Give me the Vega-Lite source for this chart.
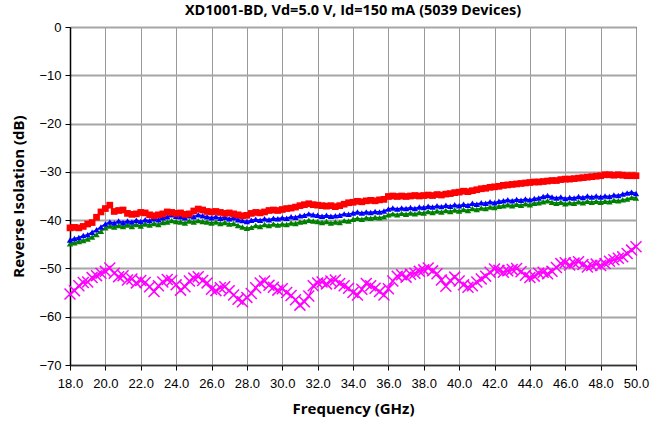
{
  "$schema": "https://vega.github.io/schema/vega-lite/v6.json",
  "width": 566,
  "height": 338,
  "autosize": {"type": "none"},
  "padding": {"left": 70, "top": 27, "right": 25, "bottom": 60},
  "background": "white",
  "title": {"text": "XD1001-BD, Vd=5.0 V, Id=150 mA (5039 Devices)", "font": "Open Sans", "fontSize": 14.5, "fontWeight": "bold", "color": "black", "anchor": "middle", "offset": 3},
  "config": {
    "view": {"stroke": "black", "strokeWidth": 1},
    "axis": {"labelFont": "Liberation Sans", "labelFontSize": 13, "labelColor": "black", "titleFont": "Open Sans", "titleFontSize": 15, "titleFontWeight": "bold", "titleColor": "black", "tickColor": "black", "tickSize": 5, "domainColor": "black", "labelFlush": false, "labelOverlap": false}
  },
  "datasets": {
    "red": [
      {"f":18.00,"v":-41.6},{"f":18.25,"v":-41.5},{"f":18.50,"v":-41.6},{"f":18.75,"v":-41.3},{"f":19.00,"v":-40.8},{"f":19.25,"v":-40.5},{"f":19.50,"v":-39.4},{"f":19.75,"v":-38.3},
      {"f":20.00,"v":-37.6},{"f":20.25,"v":-36.9},{"f":20.50,"v":-38.2},{"f":20.75,"v":-38.0},{"f":21.00,"v":-37.9},{"f":21.25,"v":-38.6},{"f":21.50,"v":-38.8},{"f":21.75,"v":-38.7},
      {"f":22.00,"v":-38.4},{"f":22.25,"v":-38.5},{"f":22.50,"v":-38.9},{"f":22.75,"v":-39.1},{"f":23.00,"v":-38.9},{"f":23.25,"v":-38.7},{"f":23.50,"v":-38.3},{"f":23.75,"v":-38.4},
      {"f":24.00,"v":-38.6},{"f":24.25,"v":-38.5},{"f":24.50,"v":-38.8},{"f":24.75,"v":-38.7},{"f":25.00,"v":-38.1},{"f":25.25,"v":-37.7},{"f":25.50,"v":-37.9},{"f":25.75,"v":-38.2},
      {"f":26.00,"v":-38.3},{"f":26.25,"v":-38.2},{"f":26.50,"v":-38.4},{"f":26.75,"v":-38.6},{"f":27.00,"v":-38.5},{"f":27.25,"v":-38.7},{"f":27.50,"v":-38.9},{"f":27.75,"v":-39.1},
      {"f":28.00,"v":-39.0},{"f":28.25,"v":-38.6},{"f":28.50,"v":-38.4},{"f":28.75,"v":-38.5},{"f":29.00,"v":-38.3},{"f":29.25,"v":-38.0},{"f":29.50,"v":-37.9},{"f":29.75,"v":-38.0},
      {"f":30.00,"v":-37.8},{"f":30.25,"v":-37.6},{"f":30.50,"v":-37.5},{"f":30.75,"v":-37.3},{"f":31.00,"v":-37.0},{"f":31.25,"v":-36.8},{"f":31.50,"v":-36.6},{"f":31.75,"v":-36.8},
      {"f":32.00,"v":-36.9},{"f":32.25,"v":-37.0},{"f":32.50,"v":-37.1},{"f":32.75,"v":-37.0},{"f":33.00,"v":-37.2},{"f":33.25,"v":-37.0},{"f":33.50,"v":-36.7},{"f":33.75,"v":-36.4},
      {"f":34.00,"v":-36.3},{"f":34.25,"v":-36.1},{"f":34.50,"v":-36.2},{"f":34.75,"v":-36.0},{"f":35.00,"v":-35.9},{"f":35.25,"v":-36.0},{"f":35.50,"v":-35.8},{"f":35.75,"v":-35.7},
      {"f":36.00,"v":-35.1},{"f":36.25,"v":-35.0},{"f":36.50,"v":-35.1},{"f":36.75,"v":-35.0},{"f":37.00,"v":-35.1},{"f":37.25,"v":-35.0},{"f":37.50,"v":-34.9},{"f":37.75,"v":-35.0},
      {"f":38.00,"v":-34.9},{"f":38.25,"v":-34.8},{"f":38.50,"v":-34.9},{"f":38.75,"v":-34.7},{"f":39.00,"v":-34.8},{"f":39.25,"v":-34.6},{"f":39.50,"v":-34.5},{"f":39.75,"v":-34.3},
      {"f":40.00,"v":-34.2},{"f":40.25,"v":-34.0},{"f":40.50,"v":-34.1},{"f":40.75,"v":-33.9},{"f":41.00,"v":-33.7},{"f":41.25,"v":-33.5},{"f":41.50,"v":-33.4},{"f":41.75,"v":-33.2},
      {"f":42.00,"v":-33.1},{"f":42.25,"v":-33.0},{"f":42.50,"v":-32.8},{"f":42.75,"v":-32.7},{"f":43.00,"v":-32.6},{"f":43.25,"v":-32.5},{"f":43.50,"v":-32.4},{"f":43.75,"v":-32.3},
      {"f":44.00,"v":-32.2},{"f":44.25,"v":-32.1},{"f":44.50,"v":-32.1},{"f":44.75,"v":-32.0},{"f":45.00,"v":-31.9},{"f":45.25,"v":-31.8},{"f":45.50,"v":-31.8},{"f":45.75,"v":-31.6},
      {"f":46.00,"v":-31.5},{"f":46.25,"v":-31.5},{"f":46.50,"v":-31.4},{"f":46.75,"v":-31.3},{"f":47.00,"v":-31.2},{"f":47.25,"v":-31.1},{"f":47.50,"v":-31.0},{"f":47.75,"v":-30.9},
      {"f":48.00,"v":-30.8},{"f":48.25,"v":-30.6},{"f":48.50,"v":-30.6},{"f":48.75,"v":-30.7},{"f":49.00,"v":-30.6},{"f":49.25,"v":-30.7},{"f":49.50,"v":-30.8},{"f":49.75,"v":-30.8},
      {"f":50.00,"v":-30.8}
    ],
    "blue": [
      {"f":18.00,"v":-44.1},{"f":18.25,"v":-43.8},{"f":18.50,"v":-43.6},{"f":18.75,"v":-43.2},{"f":19.00,"v":-43.0},{"f":19.25,"v":-42.5},{"f":19.50,"v":-42.0},{"f":19.75,"v":-41.4},
      {"f":20.00,"v":-40.8},{"f":20.25,"v":-40.4},{"f":20.50,"v":-40.6},{"f":20.75,"v":-40.2},{"f":21.00,"v":-40.5},{"f":21.25,"v":-40.2},{"f":21.50,"v":-40.4},{"f":21.75,"v":-40.0},
      {"f":22.00,"v":-40.3},{"f":22.25,"v":-39.9},{"f":22.50,"v":-40.1},{"f":22.75,"v":-39.7},{"f":23.00,"v":-39.9},{"f":23.25,"v":-39.5},{"f":23.50,"v":-39.3},{"f":23.75,"v":-38.9},
      {"f":24.00,"v":-39.2},{"f":24.25,"v":-39.3},{"f":24.50,"v":-39.5},{"f":24.75,"v":-39.1},{"f":25.00,"v":-39.3},{"f":25.25,"v":-38.9},{"f":25.50,"v":-39.1},{"f":25.75,"v":-39.3},
      {"f":26.00,"v":-39.5},{"f":26.25,"v":-39.3},{"f":26.50,"v":-39.6},{"f":26.75,"v":-39.4},{"f":27.00,"v":-39.7},{"f":27.25,"v":-39.5},{"f":27.50,"v":-39.9},{"f":27.75,"v":-40.1},
      {"f":28.00,"v":-40.3},{"f":28.25,"v":-40.0},{"f":28.50,"v":-39.8},{"f":28.75,"v":-40.0},{"f":29.00,"v":-39.7},{"f":29.25,"v":-39.9},{"f":29.50,"v":-39.6},{"f":29.75,"v":-39.7},
      {"f":30.00,"v":-39.5},{"f":30.25,"v":-39.6},{"f":30.50,"v":-39.3},{"f":30.75,"v":-39.4},{"f":31.00,"v":-39.1},{"f":31.25,"v":-39.0},{"f":31.50,"v":-38.7},{"f":31.75,"v":-38.9},
      {"f":32.00,"v":-39.0},{"f":32.25,"v":-39.2},{"f":32.50,"v":-39.0},{"f":32.75,"v":-39.2},{"f":33.00,"v":-39.1},{"f":33.25,"v":-39.0},{"f":33.50,"v":-38.7},{"f":33.75,"v":-38.8},
      {"f":34.00,"v":-38.5},{"f":34.25,"v":-38.3},{"f":34.50,"v":-38.5},{"f":34.75,"v":-38.3},{"f":35.00,"v":-38.4},{"f":35.25,"v":-38.2},{"f":35.50,"v":-38.3},{"f":35.75,"v":-38.1},
      {"f":36.00,"v":-37.7},{"f":36.25,"v":-37.5},{"f":36.50,"v":-37.7},{"f":36.75,"v":-37.5},{"f":37.00,"v":-37.6},{"f":37.25,"v":-37.4},{"f":37.50,"v":-37.6},{"f":37.75,"v":-37.3},
      {"f":38.00,"v":-37.4},{"f":38.25,"v":-37.1},{"f":38.50,"v":-37.3},{"f":38.75,"v":-37.0},{"f":39.00,"v":-37.2},{"f":39.25,"v":-36.9},{"f":39.50,"v":-37.1},{"f":39.75,"v":-36.8},
      {"f":40.00,"v":-37.0},{"f":40.25,"v":-36.7},{"f":40.50,"v":-36.9},{"f":40.75,"v":-36.5},{"f":41.00,"v":-36.7},{"f":41.25,"v":-36.4},{"f":41.50,"v":-36.5},{"f":41.75,"v":-36.2},
      {"f":42.00,"v":-36.4},{"f":42.25,"v":-36.1},{"f":42.50,"v":-36.0},{"f":42.75,"v":-35.8},{"f":43.00,"v":-36.0},{"f":43.25,"v":-35.7},{"f":43.50,"v":-35.9},{"f":43.75,"v":-35.6},
      {"f":44.00,"v":-35.8},{"f":44.25,"v":-35.5},{"f":44.50,"v":-35.4},{"f":44.75,"v":-35.1},{"f":45.00,"v":-34.9},{"f":45.25,"v":-35.2},{"f":45.50,"v":-35.4},{"f":45.75,"v":-35.2},
      {"f":46.00,"v":-35.5},{"f":46.25,"v":-35.3},{"f":46.50,"v":-35.4},{"f":46.75,"v":-35.1},{"f":47.00,"v":-35.3},{"f":47.25,"v":-35.0},{"f":47.50,"v":-35.2},{"f":47.75,"v":-35.0},
      {"f":48.00,"v":-35.2},{"f":48.25,"v":-35.0},{"f":48.50,"v":-35.1},{"f":48.75,"v":-34.8},{"f":49.00,"v":-34.9},{"f":49.25,"v":-34.6},{"f":49.50,"v":-34.4},{"f":49.75,"v":-34.2},
      {"f":50.00,"v":-34.5}
    ],
    "green": [
      {"f":18.00,"v":-44.9},{"f":18.25,"v":-44.7},{"f":18.50,"v":-44.4},{"f":18.75,"v":-44.2},{"f":19.00,"v":-43.9},{"f":19.25,"v":-43.5},{"f":19.50,"v":-43.0},{"f":19.75,"v":-42.3},
      {"f":20.00,"v":-41.6},{"f":20.25,"v":-41.2},{"f":20.50,"v":-41.4},{"f":20.75,"v":-41.1},{"f":21.00,"v":-41.3},{"f":21.25,"v":-41.0},{"f":21.50,"v":-41.3},{"f":21.75,"v":-40.9},
      {"f":22.00,"v":-41.2},{"f":22.25,"v":-40.8},{"f":22.50,"v":-41.0},{"f":22.75,"v":-40.7},{"f":23.00,"v":-40.9},{"f":23.25,"v":-40.5},{"f":23.50,"v":-40.4},{"f":23.75,"v":-40.1},
      {"f":24.00,"v":-40.3},{"f":24.25,"v":-40.4},{"f":24.50,"v":-40.6},{"f":24.75,"v":-40.2},{"f":25.00,"v":-40.4},{"f":25.25,"v":-40.1},{"f":25.50,"v":-40.3},{"f":25.75,"v":-40.4},
      {"f":26.00,"v":-40.6},{"f":26.25,"v":-40.4},{"f":26.50,"v":-40.7},{"f":26.75,"v":-40.5},{"f":27.00,"v":-40.8},{"f":27.25,"v":-40.7},{"f":27.50,"v":-41.1},{"f":27.75,"v":-41.4},
      {"f":28.00,"v":-41.7},{"f":28.25,"v":-41.5},{"f":28.50,"v":-41.1},{"f":28.75,"v":-41.3},{"f":29.00,"v":-40.9},{"f":29.25,"v":-41.1},{"f":29.50,"v":-40.8},{"f":29.75,"v":-41.0},
      {"f":30.00,"v":-40.8},{"f":30.25,"v":-40.9},{"f":30.50,"v":-40.6},{"f":30.75,"v":-40.7},{"f":31.00,"v":-40.4},{"f":31.25,"v":-40.3},{"f":31.50,"v":-40.0},{"f":31.75,"v":-40.2},
      {"f":32.00,"v":-40.3},{"f":32.25,"v":-40.5},{"f":32.50,"v":-40.3},{"f":32.75,"v":-40.6},{"f":33.00,"v":-40.4},{"f":33.25,"v":-40.5},{"f":33.50,"v":-40.1},{"f":33.75,"v":-40.2},
      {"f":34.00,"v":-39.8},{"f":34.25,"v":-39.6},{"f":34.50,"v":-39.8},{"f":34.75,"v":-39.5},{"f":35.00,"v":-39.6},{"f":35.25,"v":-39.4},{"f":35.50,"v":-39.5},{"f":35.75,"v":-39.3},
      {"f":36.00,"v":-38.9},{"f":36.25,"v":-38.7},{"f":36.50,"v":-38.9},{"f":36.75,"v":-38.6},{"f":37.00,"v":-38.8},{"f":37.25,"v":-38.5},{"f":37.50,"v":-38.7},{"f":37.75,"v":-38.4},
      {"f":38.00,"v":-38.5},{"f":38.25,"v":-38.2},{"f":38.50,"v":-38.4},{"f":38.75,"v":-38.1},{"f":39.00,"v":-38.3},{"f":39.25,"v":-38.0},{"f":39.50,"v":-38.2},{"f":39.75,"v":-37.9},
      {"f":40.00,"v":-38.1},{"f":40.25,"v":-37.8},{"f":40.50,"v":-38.0},{"f":40.75,"v":-37.6},{"f":41.00,"v":-37.8},{"f":41.25,"v":-37.5},{"f":41.50,"v":-37.6},{"f":41.75,"v":-37.3},
      {"f":42.00,"v":-37.4},{"f":42.25,"v":-37.1},{"f":42.50,"v":-37.0},{"f":42.75,"v":-36.8},{"f":43.00,"v":-37.0},{"f":43.25,"v":-36.7},{"f":43.50,"v":-36.9},{"f":43.75,"v":-36.6},
      {"f":44.00,"v":-36.8},{"f":44.25,"v":-36.5},{"f":44.50,"v":-36.4},{"f":44.75,"v":-36.2},{"f":45.00,"v":-36.0},{"f":45.25,"v":-36.3},{"f":45.50,"v":-36.5},{"f":45.75,"v":-36.3},
      {"f":46.00,"v":-36.6},{"f":46.25,"v":-36.4},{"f":46.50,"v":-36.5},{"f":46.75,"v":-36.2},{"f":47.00,"v":-36.4},{"f":47.25,"v":-36.1},{"f":47.50,"v":-36.3},{"f":47.75,"v":-36.1},
      {"f":48.00,"v":-36.3},{"f":48.25,"v":-36.1},{"f":48.50,"v":-36.2},{"f":48.75,"v":-35.9},{"f":49.00,"v":-36.0},{"f":49.25,"v":-35.8},{"f":49.50,"v":-35.6},{"f":49.75,"v":-35.3},
      {"f":50.00,"v":-35.4}
    ],
    "magenta": [
      {"f":18.00,"v":-55.3},{"f":18.25,"v":-54.6},{"f":18.50,"v":-53.6},{"f":18.75,"v":-52.9},{"f":19.00,"v":-52.8},{"f":19.25,"v":-51.9},{"f":19.50,"v":-51.5},{"f":19.75,"v":-51.0},
      {"f":20.00,"v":-50.6},{"f":20.25,"v":-49.9},{"f":20.50,"v":-51.0},{"f":20.75,"v":-51.7},{"f":21.00,"v":-51.5},{"f":21.25,"v":-52.4},{"f":21.50,"v":-52.2},{"f":21.75,"v":-53.0},
      {"f":22.00,"v":-52.5},{"f":22.25,"v":-52.9},{"f":22.50,"v":-53.8},{"f":22.75,"v":-54.8},{"f":23.00,"v":-53.6},{"f":23.25,"v":-52.8},{"f":23.50,"v":-52.3},{"f":23.75,"v":-52.5},
      {"f":24.00,"v":-53.4},{"f":24.25,"v":-54.5},{"f":24.50,"v":-53.8},{"f":24.75,"v":-52.6},{"f":25.00,"v":-52.0},{"f":25.25,"v":-51.7},{"f":25.50,"v":-52.5},{"f":25.75,"v":-53.0},
      {"f":26.00,"v":-54.3},{"f":26.25,"v":-54.6},{"f":26.50,"v":-54.0},{"f":26.75,"v":-53.8},{"f":27.00,"v":-54.6},{"f":27.25,"v":-55.5},{"f":27.50,"v":-56.4},{"f":27.75,"v":-56.9},
      {"f":28.00,"v":-56.0},{"f":28.25,"v":-55.2},{"f":28.50,"v":-54.0},{"f":28.75,"v":-53.0},{"f":29.00,"v":-52.6},{"f":29.25,"v":-53.5},{"f":29.50,"v":-53.9},{"f":29.75,"v":-54.5},
      {"f":30.00,"v":-54.2},{"f":30.25,"v":-55.0},{"f":30.50,"v":-55.6},{"f":30.75,"v":-56.5},{"f":31.00,"v":-57.6},{"f":31.25,"v":-56.9},{"f":31.50,"v":-55.7},{"f":31.75,"v":-53.6},
      {"f":32.00,"v":-53.0},{"f":32.25,"v":-52.8},{"f":32.50,"v":-53.2},{"f":32.75,"v":-52.6},{"f":33.00,"v":-52.4},{"f":33.25,"v":-53.1},{"f":33.50,"v":-53.6},{"f":33.75,"v":-54.1},
      {"f":34.00,"v":-55.0},{"f":34.25,"v":-55.5},{"f":34.50,"v":-54.3},{"f":34.75,"v":-53.1},{"f":35.00,"v":-53.6},{"f":35.25,"v":-54.1},{"f":35.50,"v":-54.8},{"f":35.75,"v":-55.5},
      {"f":36.00,"v":-54.2},{"f":36.25,"v":-52.6},{"f":36.50,"v":-51.6},{"f":36.75,"v":-51.3},{"f":37.00,"v":-51.8},{"f":37.25,"v":-51.2},{"f":37.50,"v":-51.0},{"f":37.75,"v":-50.6},
      {"f":38.00,"v":-50.3},{"f":38.25,"v":-49.9},{"f":38.50,"v":-50.5},{"f":38.75,"v":-51.1},{"f":39.00,"v":-52.4},{"f":39.25,"v":-53.7},{"f":39.50,"v":-52.5},{"f":39.75,"v":-51.8},
      {"f":40.00,"v":-52.6},{"f":40.25,"v":-53.4},{"f":40.50,"v":-53.9},{"f":40.75,"v":-53.6},{"f":41.00,"v":-52.8},{"f":41.25,"v":-52.2},{"f":41.50,"v":-51.6},{"f":41.75,"v":-50.8},
      {"f":42.00,"v":-50.1},{"f":42.25,"v":-50.4},{"f":42.50,"v":-50.8},{"f":42.75,"v":-50.5},{"f":43.00,"v":-50.2},{"f":43.25,"v":-50.0},{"f":43.50,"v":-50.7},{"f":43.75,"v":-51.4},
      {"f":44.00,"v":-51.9},{"f":44.25,"v":-51.6},{"f":44.50,"v":-51.0},{"f":44.75,"v":-50.8},{"f":45.00,"v":-51.1},{"f":45.25,"v":-50.6},{"f":45.50,"v":-49.8},{"f":45.75,"v":-49.0},
      {"f":46.00,"v":-48.8},{"f":46.25,"v":-49.3},{"f":46.50,"v":-48.9},{"f":46.75,"v":-48.6},{"f":47.00,"v":-49.2},{"f":47.25,"v":-49.7},{"f":47.50,"v":-49.4},{"f":47.75,"v":-49.1},
      {"f":48.00,"v":-49.4},{"f":48.25,"v":-49.0},{"f":48.50,"v":-48.5},{"f":48.75,"v":-48.2},{"f":49.00,"v":-47.9},{"f":49.25,"v":-47.6},{"f":49.50,"v":-46.9},{"f":49.75,"v":-46.2},
      {"f":50.00,"v":-45.5}
    ]
  },
  "encoding": {
    "x": {"field": "f", "type": "quantitative", "scale": {"domain": [18, 50], "nice": false, "zero": false},
      "axis": {"title": "Frequency (GHz)", "values": [18,20,22,24,26,28,30,32,34,36,38,40,42,44,46,48,50], "format": ".1f", "labelPadding": 7, "titlePadding": 11, "gridColor": "#999999", "gridWidth": 1, "domainColor": "#333333", "domainWidth": 1.5}},
    "y": {"field": "v", "type": "quantitative", "scale": {"domain": [-70, 0], "nice": false},
      "axis": {"title": "Reverse Isolation (dB)", "values": [-70,-60,-50,-40,-30,-20,-10,0], "format": "d", "labelPadding": 4, "titlePadding": 12, "gridColor": "#a6a6a6", "gridWidth": 2, "domainWidth": 1.5}}
  },
  "layer": [
    {"data": {"name": "magenta"}, "mark": {"type": "line", "color": "#ff00ff", "strokeWidth": 1.5}},
    {"data": {"name": "magenta"}, "mark": {"type": "point", "shape": "M-1,-1L1,1M1,-1L-1,1", "filled": false, "stroke": "#ff00ff", "strokeWidth": 1.5, "size": 120, "opacity": 1}},
    {"data": {"name": "green"}, "mark": {"type": "line", "color": "#008000", "strokeWidth": 1.5}},
    {"data": {"name": "green"}, "mark": {"type": "point", "shape": "triangle-up", "filled": true, "color": "#008000", "size": 40, "opacity": 1}},
    {"data": {"name": "blue"}, "mark": {"type": "line", "color": "#0000ff", "strokeWidth": 1.5}},
    {"data": {"name": "blue"}, "mark": {"type": "point", "shape": "triangle-up", "filled": true, "color": "#0000ff", "size": 40, "opacity": 1}},
    {"data": {"name": "red"}, "mark": {"type": "line", "color": "#ff0000", "strokeWidth": 1.5}},
    {"data": {"name": "red"}, "mark": {"type": "point", "shape": "square", "filled": true, "color": "#ff0000", "size": 45, "opacity": 1}}
  ]
}
